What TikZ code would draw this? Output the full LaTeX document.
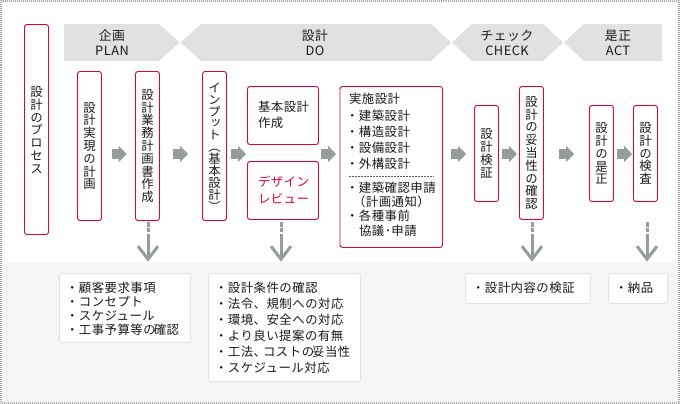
\documentclass[tikz,border=0pt]{standalone}
\usepackage{fontspec}
\usetikzlibrary{arrows.meta}
\setmainfont{Noto Sans CJK JP}[LetterSpace=4]
\newfontfamily\vfont{Noto Sans CJK JP}[RawFeature={+vert}]
\definecolor{redline}{HTML}{E4003A}
\definecolor{bandgray}{HTML}{E0E1E0}
\definecolor{arrowgray}{HTML}{959D9B}
\definecolor{panelgray}{HTML}{F4F6F5}
\definecolor{boxedge}{HTML}{E2E4E3}
\definecolor{ink}{HTML}{1A1A1A}
\newcommand{\boxat}[6][stage]{\node[#1,minimum width={#4-#2},minimum height={#5-#3}] (#6) at ({(#2+#4)/2},{-(#3+#5)/2}) {};}
\newcommand{\dropat}[2]{%
  \coordinate (#1a) at (#2,-222);
  \coordinate (#1b) at (#2,-259.2);
  \draw[dotpart] (#1a) -- (#1b);
  \draw[drop] ([shift={(-10,13)}]#1b) -- (#1b) -- ([shift={(10,13)}]#1b);}
\tikzset{
  x=1pt,y=1pt,
  every node/.style={inner sep=0pt,outer sep=0pt,text=ink,font=\fontsize{12.4}{14}\selectfont},
  stage/.style={draw=redline,fill=white,line width=0.9pt,rounded corners=2.5pt},
  band/.style={fill=bandgray},
  head/.style={align=center,font=\fontsize{12.8}{15}\selectfont},
  vtxt/.style={align=center,font=\vfont\fontsize{12.4}{12.8}\selectfont},
  listtxt/.style={anchor=north west,align=left},
  note/.style={draw=boxedge,fill=white,line width=0.8pt,rounded corners=2.5pt},
  flow/.style={draw=arrowgray,line width=10.5pt,-{Triangle[length=8pt,width=16pt]}},
  dotpart/.style={draw=arrowgray,line width=3pt,dash pattern=on 4.6pt off 1.2pt on 4.4pt off 1.8pt on 60pt off 0pt},
  drop/.style={draw=arrowgray,line width=3pt,miter limit=10},
  edgecheck/.style={draw=black!35,line width=1pt,dash pattern=on 1pt off 1pt},
}
\begin{document}
\begin{tikzpicture}
\useasboundingbox (0,0) rectangle (680,-404);
\fill[white] (0,0) rectangle (680,-404);
\fill[panelgray] (3,-263) rectangle (678,-402);
\draw[edgecheck] (0.5,-0.5) rectangle (679.5,-403.5);
\draw[edgecheck,dash phase=1pt] (1.5,-1.5) rectangle (678.5,-402.5);
% header bands
\fill[band] (64,-24) -- (159,-24) -- (179.6,-42.5) -- (159,-61) -- (64,-61) -- cycle;
\fill[band] (180.6,-42.5) -- (201,-24) -- (431,-24) -- (451,-42.5) -- (431,-61) -- (201,-61) -- cycle;
\fill[band] (452,-42.5) -- (472,-24) -- (543,-24) -- (563,-42.5) -- (543,-61) -- (472,-61) -- cycle;
\fill[band] (564,-42.5) -- (584,-24) -- (662,-24) -- (662,-61) -- (584,-61) -- cycle;
\node[head] (hplan) at (112,-42.5) {企画\\PLAN};
\node[head] (hdo) at (315,-43) {設計\\DO};
\node[head] (hcheck) at (507,-42.5) {チェック\\CHECK};
\node[head] (hact) at (618,-42.5) {是正\\ACT};
% stages
\boxat{24.5}{24.5}{48.5}{234.5}{proc}
\boxat{77.5}{71.5}{101.5}{220.5}{jitsu}
\boxat{135.5}{71.5}{159.5}{220.5}{gyomu}
\boxat{202.5}{71.5}{226.5}{220.5}{input}
\boxat{247.5}{86.5}{318.5}{144.5}{kihon}
\boxat{247.5}{161.5}{318.5}{219.5}{review}
\boxat{340}{86.5}{442.5}{247.5}{jisshi}
\boxat{474.5}{105.5}{498.5}{201.5}{kensho}
\boxat{519.5}{86.5}{543.5}{219.5}{datou}
\boxat{589.5}{105.5}{613.5}{201.5}{zesei}
\boxat{633.5}{105.5}{657.5}{201.5}{kensa}
\node[vtxt] (tproc) at (36.5,-130) {設\\計\\の\\プ\\ロ\\セ\\ス};
\node[vtxt] (tjitsu) at (jitsu) {設\\計\\実\\現\\の\\計\\画};
\node[vtxt] (tgyomu) at (gyomu) {設\\計\\業\\務\\計\\画\\書\\作\\成};
\node[vtxt,font=\vfont\fontsize{12.4}{11.9}\selectfont] (tinput) at (214.5,-147) {イ\\ン\\プ\\ッ\\ト\\（\\基\\本\\設\\計\\）};
\node[listtxt,font=\fontsize{12.4}{16.5}\selectfont] (tkihon) at (258,-101) {基本設計\\作成};
\node[listtxt,font=\fontsize{12.4}{16.5}\selectfont,text=redline] (treview) at (258,-176) {デザイン\\レビュー};
\node[listtxt,font=\fontsize{12.4}{16.1}\selectfont] (tj1) at (349,-93.5) {実施設計\\\hspace*{-3pt}・建築設計\\\hspace*{-3pt}・構造設計\\\hspace*{-3pt}・設備設計\\\hspace*{-3pt}・外構設計};
\coordinate (dashl) at (349,-176.5);
\coordinate (dashr) at (434,-176.5);
\draw[ink!70,line width=0.5pt,dash pattern=on 1.5pt off 1.5pt] (dashl) -- (dashr);
\node[listtxt,font=\fontsize{12.4}{14.2}\selectfont] (tj2) at (346,-182) {・建築確認申請\\\hspace{7pt}（計画通知）\\・各種事前\\\hspace{13pt}協議･申請};
\node[vtxt] (tkensho) at (kensho) {設\\計\\検\\証};
\node[vtxt] (tdatou) at (datou) {設\\計\\の\\妥\\当\\性\\の\\確\\認};
\node[vtxt] (tzesei) at (zesei) {設\\計\\の\\是\\正};
\node[vtxt] (tkensa) at (kensa) {設\\計\\の\\検\\査};
% flow arrows
\coordinate (fy) at (0,-154);
\draw[flow,shorten <=10.5pt,shorten >=8.8pt] (jitsu.east |- fy) -- (gyomu.west |- fy);
\draw[flow,shorten <=13.5pt,shorten >=14.5pt] (gyomu.east |- fy) -- (input.west |- fy);
\draw[flow,shorten <=4.5pt,shorten >=1.5pt] (input.east |- fy) -- (kihon.west |- fy);
\draw[flow,shorten <=2.5pt,shorten >=4pt] (kihon.east |- fy) -- (jisshi.west |- fy);
\draw[flow,shorten <=8.5pt,shorten >=8.5pt] (jisshi.east |- fy) -- (kensho.west |- fy);
\draw[flow,shorten <=3.5pt,shorten >=2.5pt] (kensho.east |- fy) -- (datou.west |- fy);
\draw[flow,shorten <=15.5pt,shorten >=15.5pt] (datou.east |- fy) -- (zesei.west |- fy);
\draw[flow,shorten <=3.5pt,shorten >=1.5pt] (zesei.east |- fy) -- (kensa.west |- fy);
% drop arrows
\dropat{da}{148}
\dropat{db}{281}
\dropat{dc}{532}
\dropat{dd}{647}
% notes
\boxat[note]{59.5}{273.5}{190.5}{342.5}{na}
\boxat[note]{208.5}{273.5}{360.5}{381.5}{nb}
\boxat[note]{465.5}{273.5}{590.5}{303.5}{nc}
\boxat[note]{608.5}{273.5}{667.5}{303.5}{nd}
\node[listtxt,font=\fontsize{12.4}{13.9}\selectfont] (ta) at (66,-282.5) {・顧客要求事項\\・コンセプト\\・スケジュール\\・工事予算等の\hspace{-2pt}確認};
\node[listtxt,font=\fontsize{12.4}{15.9}\selectfont] (tb) at (215,-282.5) {・設計条件の確認\\・法令、規制への対応\\・環境、安全への対応\\・より良い提案の有無\\・工法、\hspace{-3pt}コストの\hspace{-2pt}妥当性\\・スケジュール対応};
\node[listtxt] (tc) at (472,-282) {・設計内容の検証};
\node[listtxt] (td) at (615,-282) {・納品};
\end{tikzpicture}
\end{document}
